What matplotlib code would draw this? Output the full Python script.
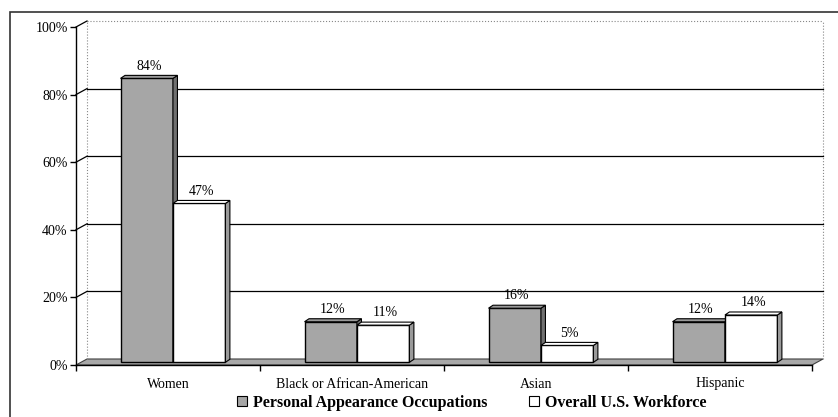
import matplotlib
matplotlib.use('Agg')
import matplotlib.pyplot as plt
from matplotlib.patches import Polygon, Patch, Rectangle

plt.rcParams['font.family'] = ['Liberation Serif', 'DejaVu Serif']

categories = ['Women', 'Black or African-American', 'Asian', 'Hispanic']
personal = [84, 12, 16, 12]
workforce = [47, 11, 5, 14]
series_names = ['Personal Appearance Occupations', 'Overall U.S. Workforce']
yticks = [0, 20, 40, 60, 80, 100]

W, H = 838, 417
fig = plt.figure(figsize=(W / 100, H / 100), dpi=100)

# pixel layout of the plot box (front axis origin, back wall top-right)
px_left, px_right, px_bottom, px_top = 76, 825, 365, 20
ax = fig.add_axes([px_left / W, (H - px_bottom) / H,
                   (px_right - px_left) / W, (px_bottom - px_top) / H])

xunit = 184.0          # pixels per category
yunit = 3.38           # pixels per percent
ax.set_xlim(0, (px_right - px_left) / xunit)
ax.set_ylim(0, (px_bottom - px_top) / yunit)
ax.patch.set_visible(False)

# depth of the back wall and of each bar (data units)
dx, dy = 11 / xunit, 6 / yunit
sx, sy = 4.5 / xunit, 3 / yunit
ox, oy = dx * 0.45, dy * 0.45
ncat = len(categories)

for s in ['top', 'right']:
    ax.spines[s].set_visible(False)
ax.spines['left'].set_bounds(0, 100)
ax.spines['bottom'].set_bounds(0, ncat)
ax.spines['left'].set_linewidth(1.0)
ax.spines['bottom'].set_linewidth(1.0)

ax.set_yticks(yticks)
ax.set_yticklabels([f'{v}%' for v in yticks])
ax.set_xticks(range(ncat + 1))
ax.set_xticklabels([])
ax.set_xticks([i + 0.5 for i in range(ncat)], minor=True)
ax.set_xticklabels(categories, minor=True)
ax.tick_params(axis='y', length=4, width=1, pad=2, labelsize=10)
ax.tick_params(axis='x', which='major', length=4, width=1)
ax.tick_params(axis='x', which='minor', length=0, pad=9, labelsize=10)

# floor
floor = Polygon([(0, 0), (ncat, 0), (ncat + dx, dy), (dx, dy)],
                closed=True, facecolor='#a8a8a8', edgecolor='#404040',
                lw=0.8, clip_on=False, zorder=1)
ax.add_patch(floor)

# back wall edges and gridlines
xr = ncat + dx
ax.plot([dx, dx], [dy, 100 + dy], color='#888888', lw=0.8, ls=':', clip_on=False, zorder=1)
ax.plot([xr, xr], [dy, 100 + dy], color='#888888', lw=0.8, ls=':', clip_on=False, zorder=1)
ax.plot([dx, xr], [100 + dy, 100 + dy], color='#888888', lw=0.8, ls=':', clip_on=False, zorder=1)
for v in yticks[1:]:
    ax.plot([0, dx], [v, v + dy], color='black', lw=0.9, clip_on=False, zorder=1)
for v in yticks[1:-1]:
    ax.plot([dx, xr], [v + dy, v + dy], color='black', lw=0.9, clip_on=False, zorder=1)

bw = 0.285


def draw_bar(x0, h, face, side, top, z):
    x = x0 + ox
    ax.bar(x, h, width=bw, bottom=oy, align='edge', facecolor=face,
           edgecolor='black', lw=1.0, zorder=z)
    ax.add_patch(Polygon([(x + bw, oy), (x + bw, h + oy), (x + bw + sx, h + oy + sy),
                          (x + bw + sx, oy + sy)], closed=True, facecolor=side,
                         edgecolor='black', lw=0.8, zorder=z))
    ax.add_patch(Polygon([(x, h + oy), (x + bw, h + oy), (x + bw + sx, h + oy + sy),
                          (x + sx, h + oy + sy)], closed=True, facecolor=top,
                         edgecolor='black', lw=0.8, zorder=z))
    ax.annotate(f'{h}%', (x + bw / 2 + sx / 2, h + oy + sy), xytext=(0, 2),
                textcoords='offset points', ha='center', va='bottom', fontsize=10,
                zorder=5)


for i in range(ncat):
    draw_bar(i + 0.5 - bw, personal[i], '#a6a6a6', '#707070', '#9a9a9a', 3)
    draw_bar(i + 0.5, workforce[i], 'white', '#9a9a9a', 'white', 4)

handles = [Patch(facecolor='#a6a6a6', edgecolor='black', lw=0.8),
           Patch(facecolor='white', edgecolor='black', lw=0.8)]
fig.legend(handles, series_names, ncol=2, loc='center',
           bbox_to_anchor=(472 / W, (H - 403) / H), frameon=False,
           prop={'weight': 'bold', 'size': 11.5}, handlelength=0.6,
           handleheight=0.6, handletextpad=0.4, columnspacing=2.6)

# outer chart frame
fig.add_artist(Rectangle((10 / W, -0.1), 1.0, (H - 12) / H + 0.1,
                         transform=fig.transFigure, fill=False,
                         edgecolor='#333333', lw=1.2))

fig.savefig('out.png', dpi=100)
